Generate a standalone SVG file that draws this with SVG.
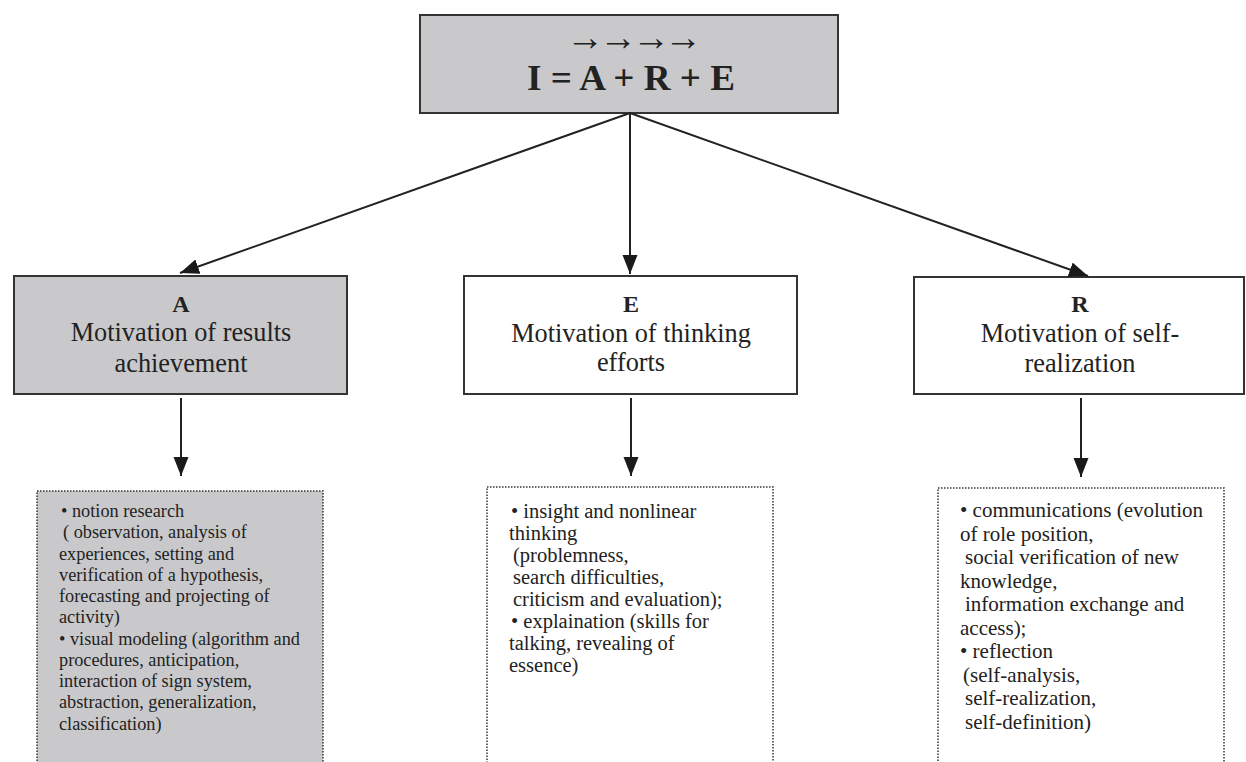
<svg xmlns="http://www.w3.org/2000/svg" width="1246" height="762" viewBox="0 0 1246 762">
<style>
.box{stroke:#333;stroke-width:2}
.gray{fill:#c9c9cb}
.white{fill:#fff}
.dot{stroke:#333;stroke-width:1.5;stroke-dasharray:1.5 1.5}
.t{font-family:"Liberation Serif","Times New Roman",serif;fill:#222}
.title{font-size:24px;font-weight:bold;text-anchor:middle}
.sub{font-size:26.3px;text-anchor:middle}
.conn{stroke:#222;stroke-width:2;fill:none}
</style>
<defs>
<marker id="ah" markerUnits="userSpaceOnUse" markerWidth="22" markerHeight="16" refX="19" refY="7.5" orient="auto">
<path d="M0,0 L19,7.5 L0,15 Z" fill="#1a1a1a"/>
</marker>
</defs>
<rect width="1246" height="762" fill="#fff"/>

<g id="top">
<rect class="box gray" x="420" y="15" width="418" height="98"/>
<text class="t" x="566 592 599 625 632 658 664" y="50" font-size="38">→ → → →</text>
<text class="t" x="631" y="90" font-size="35" font-weight="bold" text-anchor="middle" textLength="208" lengthAdjust="spacingAndGlyphs">I = A + R + E</text>
</g>

<g id="nodeA">
<rect class="box gray" x="14" y="276" width="333" height="118"/>
<text class="t title" x="181" y="312">A</text>
<text class="t sub" x="181" y="341">Motivation of results</text>
<text class="t sub" x="181" y="372">achievement</text>
</g>

<g id="nodeE">
<rect class="box white" x="464" y="276" width="333" height="118"/>
<text class="t title" x="631" y="312">E</text>
<text class="t sub" x="631" y="342">Motivation of thinking</text>
<text class="t sub" x="631" y="371">efforts</text>
</g>

<g id="nodeR">
<rect class="box white" x="914" y="277" width="330" height="117"/>
<text class="t title" x="1080" y="312">R</text>
<text class="t sub" x="1080" y="342">Motivation of self-</text>
<text class="t sub" x="1080" y="372">realization</text>
</g>

<g id="detailA">
<rect class="dot gray" x="37" y="491" width="286" height="290"/>
<g class="t" font-size="18.3">
<text x="61" y="517">• notion research</text>
<text x="63" y="538">( observation, analysis of</text>
<text x="59" y="560">experiences, setting and</text>
<text x="59" y="581">verification of a hypothesis,</text>
<text x="59" y="602">forecasting and projecting of</text>
<text x="59" y="623">activity)</text>
<text x="59" y="645">• visual modeling (algorithm and</text>
<text x="59" y="666">procedures, anticipation,</text>
<text x="59" y="687">interaction of sign system,</text>
<text x="59" y="708">abstraction, generalization,</text>
<text x="59" y="730">classification)</text>
</g>
</g>

<g id="detailE">
<rect class="dot white" x="487" y="487" width="286" height="290"/>
<g class="t" font-size="20.5">
<text x="511" y="518">• insight and nonlinear</text>
<text x="509" y="540">thinking</text>
<text x="513" y="562">(problemness,</text>
<text x="513" y="584">search difficulties,</text>
<text x="513" y="606">criticism and evaluation);</text>
<text x="511" y="628">• explaination (skills for</text>
<text x="509" y="650">talking, revealing of</text>
<text x="509" y="672">essence)</text>
</g>
</g>

<g id="detailR">
<rect class="dot white" x="938" y="488" width="286" height="290"/>
<g class="t" font-size="21">
<text x="960" y="517">• communications (evolution</text>
<text x="960" y="540.5">of role position,</text>
<text x="965" y="564">social verification of new</text>
<text x="960" y="587.5">knowledge,</text>
<text x="965" y="611">information exchange and</text>
<text x="960" y="634.5">access);</text>
<text x="960" y="658">• reflection</text>
<text x="963" y="681.5">(self-analysis,</text>
<text x="965" y="705">self-realization,</text>
<text x="965" y="728.5">self-definition)</text>
</g>
</g>

<g id="connectors">
<line class="conn" x1="630" y1="113" x2="180" y2="273" marker-end="url(#ah)"/>
<line class="conn" x1="630" y1="113" x2="630" y2="274" marker-end="url(#ah)"/>
<line class="conn" x1="630" y1="113" x2="1088" y2="276" marker-end="url(#ah)"/>
<line class="conn" x1="181" y1="398" x2="181" y2="476" marker-end="url(#ah)"/>
<line class="conn" x1="631" y1="398" x2="631" y2="476" marker-end="url(#ah)"/>
<line class="conn" x1="1081" y1="398" x2="1081" y2="477" marker-end="url(#ah)"/>
</g>
</svg>
